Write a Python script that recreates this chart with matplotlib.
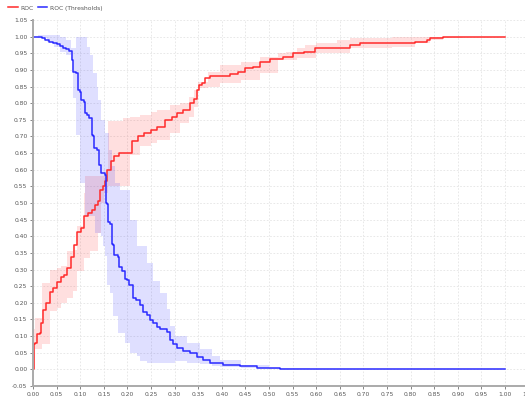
import numpy as np
import matplotlib
matplotlib.use("Agg")
import matplotlib.pyplot as plt

# ROC curve (false positive rate -> true positive rate), step points
roc_x = [0.000, 0.002, 0.005, 0.008, 0.014, 0.017, 0.021, 0.028, 0.036, 0.043,
         0.050, 0.059, 0.066, 0.073, 0.080, 0.086, 0.094, 0.101, 0.108, 0.117,
         0.124, 0.131, 0.137, 0.142, 0.148, 0.152, 0.157, 0.165, 0.172, 0.183,
         0.210, 0.222, 0.235, 0.250, 0.262, 0.280, 0.295, 0.305, 0.318, 0.333,
         0.340, 0.347, 0.352, 0.357, 0.364, 0.375, 0.417, 0.434, 0.449, 0.466,
         0.480, 0.503, 0.530, 0.551, 0.575, 0.597, 0.672, 0.693, 0.760, 0.809,
         0.834, 0.841, 0.869, 0.911, 1.000]
roc_y = [0.000, 0.075, 0.080, 0.105, 0.108, 0.140, 0.178, 0.200, 0.233, 0.245,
         0.262, 0.277, 0.283, 0.305, 0.338, 0.375, 0.413, 0.425, 0.460, 0.470,
         0.480, 0.493, 0.505, 0.540, 0.552, 0.565, 0.600, 0.625, 0.640, 0.650,
         0.685, 0.700, 0.710, 0.720, 0.728, 0.750, 0.760, 0.770, 0.780, 0.800,
         0.812, 0.840, 0.855, 0.862, 0.875, 0.882, 0.888, 0.893, 0.905, 0.910,
         0.925, 0.932, 0.940, 0.950, 0.953, 0.965, 0.975, 0.980, 0.982, 0.985,
         0.990, 0.995, 0.998, 1.000, 1.000]

# spread of the ROC curve over folds
roc_band_x = [0.000, 0.004, 0.020, 0.037, 0.050, 0.060, 0.073, 0.084, 0.094, 0.108,
              0.110, 0.120, 0.137, 0.145, 0.150, 0.158, 0.190, 0.205, 0.227, 0.250,
              0.262, 0.290, 0.311, 0.330, 0.340, 0.350, 0.370, 0.396, 0.440, 0.480,
              0.520, 0.535, 0.560, 0.577, 0.600, 0.643, 0.672, 0.760, 0.809, 0.841,
              0.869, 0.911, 1.000]
roc_lo = [0.000, 0.060, 0.075, 0.175, 0.185, 0.200, 0.215, 0.235, 0.295, 0.335,
          0.335, 0.355, 0.410, 0.500, 0.530, 0.550, 0.550, 0.645, 0.670, 0.680,
          0.690, 0.710, 0.740, 0.760, 0.790, 0.845, 0.850, 0.860, 0.870, 0.890,
          0.930, 0.930, 0.935, 0.935, 0.950, 0.950, 0.965, 0.970, 0.980, 0.990,
          0.995, 1.000, 1.000]
roc_hi = [0.120, 0.155, 0.260, 0.300, 0.305, 0.310, 0.355, 0.360, 0.430, 0.530,
          0.580, 0.580, 0.580, 0.580, 0.580, 0.745, 0.755, 0.760, 0.765, 0.775,
          0.780, 0.795, 0.800, 0.820, 0.840, 0.865, 0.895, 0.915, 0.925, 0.940,
          0.950, 0.955, 0.965, 0.975, 0.980, 0.990, 0.995, 1.000, 1.000, 1.000,
          1.000, 1.000, 1.000]

# ROC (Thresholds) curve
thr_x = [0.000, 0.018, 0.025, 0.033, 0.042, 0.050, 0.057, 0.063, 0.070, 0.077,
         0.082, 0.085, 0.091, 0.096, 0.100, 0.102, 0.107, 0.110, 0.115, 0.119,
         0.124, 0.128, 0.130, 0.135, 0.140, 0.144, 0.145, 0.152, 0.154, 0.157,
         0.159, 0.163, 0.167, 0.170, 0.172, 0.179, 0.183, 0.188, 0.195, 0.200,
         0.204, 0.211, 0.219, 0.226, 0.234, 0.241, 0.248, 0.255, 0.262, 0.269,
         0.283, 0.290, 0.297, 0.304, 0.318, 0.333, 0.347, 0.361, 0.375, 0.403,
         0.439, 0.474, 0.523, 0.587, 1.000]
thr_y = [1.000, 0.995, 0.990, 0.985, 0.980, 0.977, 0.972, 0.967, 0.962, 0.957,
         0.930, 0.895, 0.890, 0.840, 0.835, 0.810, 0.805, 0.770, 0.765, 0.755,
         0.705, 0.700, 0.665, 0.660, 0.615, 0.610, 0.590, 0.585, 0.500, 0.498,
         0.443, 0.438, 0.378, 0.373, 0.343, 0.338, 0.308, 0.296, 0.273, 0.268,
         0.253, 0.213, 0.208, 0.193, 0.173, 0.163, 0.148, 0.138, 0.128, 0.120,
         0.113, 0.088, 0.075, 0.063, 0.055, 0.048, 0.038, 0.028, 0.020, 0.012,
         0.009, 0.005, 0.002, 0.000, 0.000]

thr_band_x = [0.000, 0.010, 0.030, 0.045, 0.057, 0.070, 0.080, 0.085, 0.092, 0.100,
              0.110, 0.114, 0.121, 0.128, 0.131, 0.135, 0.138, 0.145, 0.149, 0.152,
              0.156, 0.160, 0.163, 0.167, 0.170, 0.174, 0.181, 0.184, 0.195, 0.205,
              0.220, 0.227, 0.241, 0.255, 0.270, 0.283, 0.290, 0.300, 0.326, 0.354,
              0.380, 0.396, 0.440, 0.500, 0.587, 1.000]
thr_lo = [1.000, 0.995, 0.985, 0.970, 0.955, 0.945, 0.930, 0.815, 0.705, 0.560,
          0.460, 0.460, 0.460, 0.460, 0.410, 0.410, 0.410, 0.400, 0.370, 0.340,
          0.255, 0.255, 0.230, 0.230, 0.160, 0.160, 0.110, 0.110, 0.080, 0.050,
          0.040, 0.025, 0.020, 0.020, 0.020, 0.020, 0.020, 0.025, 0.020, 0.015,
          0.010, 0.008, 0.005, 0.002, 0.000, 0.000]
thr_hi = [1.000, 1.005, 1.005, 1.005, 1.000, 0.990, 0.965, 0.965, 1.000, 1.000,
          1.000, 0.970, 0.946, 0.890, 0.890, 0.850, 0.810, 0.750, 0.750, 0.710,
          0.710, 0.660, 0.660, 0.610, 0.610, 0.560, 0.560, 0.540, 0.540, 0.450,
          0.370, 0.370, 0.320, 0.265, 0.230, 0.180, 0.130, 0.100, 0.080, 0.060,
          0.040, 0.027, 0.012, 0.005, 0.000, 0.000]

red = "#ff2a2a"
blue = "#2a2aff"

fig = plt.figure(figsize=(5.25, 3.98), dpi=100)
ax = fig.add_axes([0.0629, 0.0302, 0.944, 0.9195])

ax.fill_between(roc_band_x, roc_lo, roc_hi, step="post", color=red, alpha=0.15, linewidth=0)
ax.fill_between(thr_band_x, thr_lo, thr_hi, step="post", color=blue, alpha=0.15, linewidth=0)
ax.plot(roc_x, roc_y, drawstyle="steps-post", color=red, lw=1.1, label="ROC")
ax.plot(thr_x, thr_y, drawstyle="steps-post", color=blue, lw=1.1, label="ROC (Thresholds)")

ax.set_xlim(0, 1.05)
ax.set_ylim(-0.05, 1.05)
ax.set_xticks(np.arange(0, 1.051, 0.05))
ax.set_yticks(np.arange(-0.05, 1.051, 0.05))
ax.set_xticklabels([f"{v:.2f}" for v in np.arange(0, 1.001, 0.05)] + ["1.05"])
ax.set_yticklabels([f"{v:.2f}" for v in np.arange(-0.05, 1.051, 0.05)])
ax.tick_params(labelsize=4.3, colors="#555555", length=2, width=0.5, pad=2)

ax.grid(True, color="#e4e4e4", linestyle=(0, (2, 2)), linewidth=0.6)
ax.set_axisbelow(True)
for side in ["top", "right"]:
    ax.spines[side].set_visible(False)
for side in ["left", "bottom"]:
    ax.spines[side].set_color("#aaaaaa")
    ax.spines[side].set_linewidth(1.4)

fig.legend(loc="upper left", bbox_to_anchor=(0.005, 1.0), ncol=2, frameon=False,
           fontsize=4.3, handlelength=1.6, handletextpad=0.4, columnspacing=0.8,
           labelcolor="#555555")

fig.savefig("out.png", dpi=100)
